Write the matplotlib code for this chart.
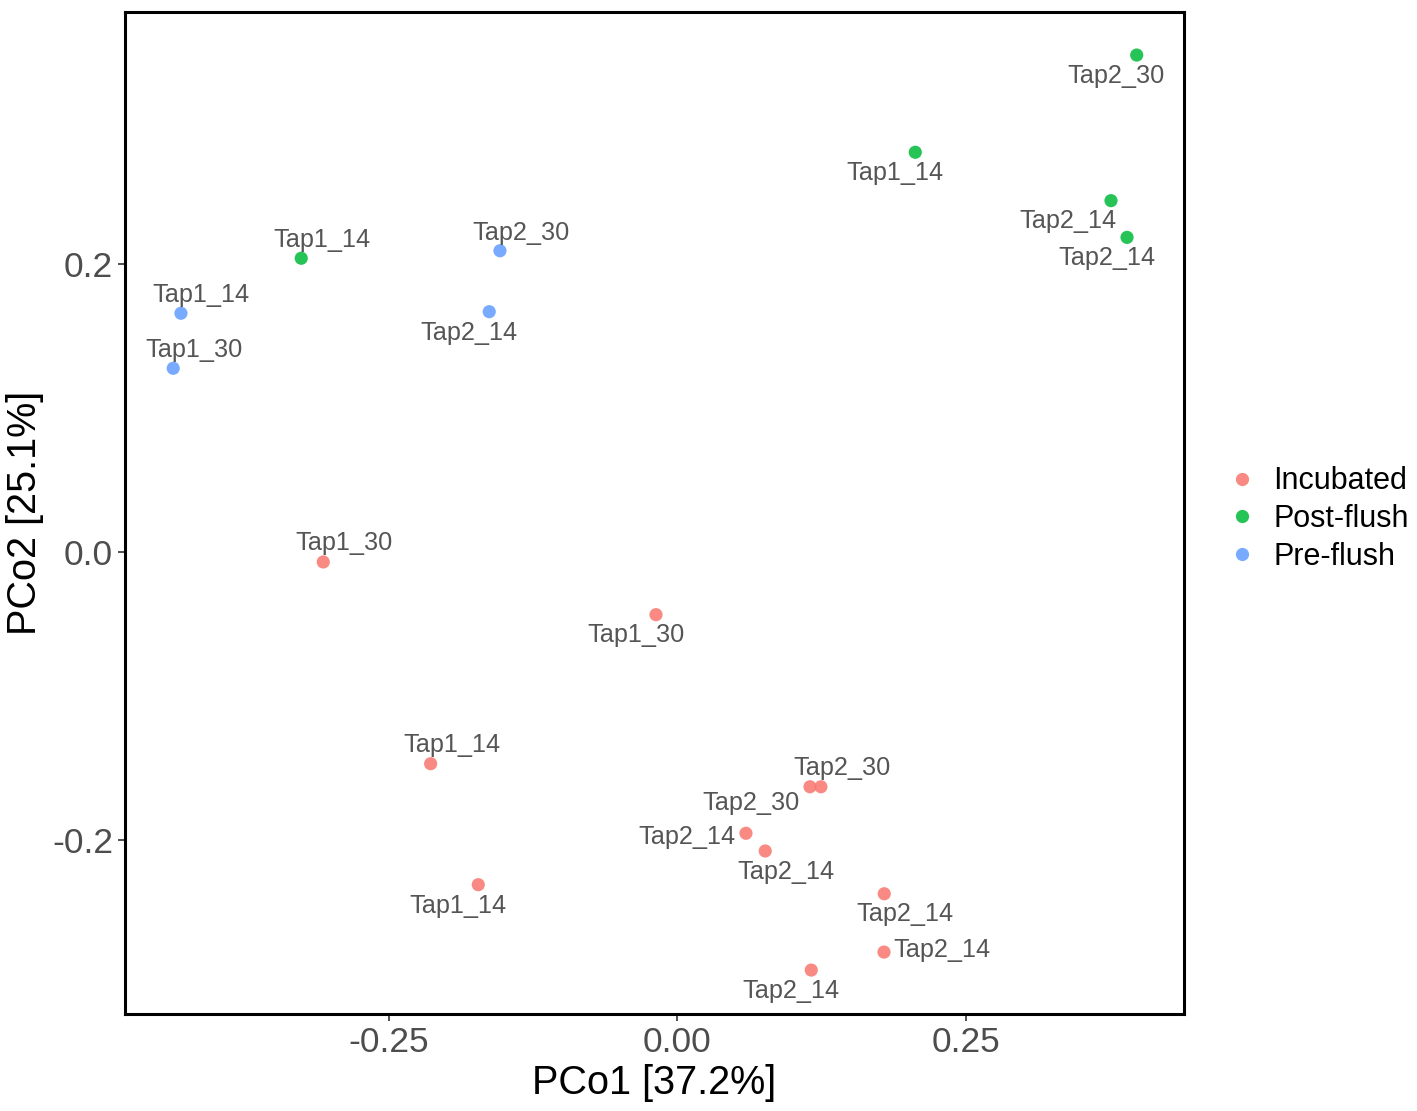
import numpy as np
import matplotlib
matplotlib.use('Agg')
import matplotlib.pyplot as plt
from matplotlib.lines import Line2D

plt.rcParams['font.family'] = ['Liberation Sans', 'DejaVu Sans']

# PCoA scores
groups = ['Incubated', 'Post-flush', 'Pre-flush']
colors = {'Incubated': '#F8766D', 'Post-flush': '#00BA38', 'Pre-flush': '#619CFF'}

pre_x = [-0.4305, -0.4372, -0.1539, -0.1632]
pre_y = [0.1658, 0.1276, 0.2092, 0.1669]
pre_lab = ['Tap1_14', 'Tap1_30', 'Tap2_30', 'Tap2_14']

post_x = [-0.3262, 0.2062, 0.3982, 0.3759, 0.3898]
post_y = [0.2040, 0.2776, 0.3451, 0.2440, 0.2185]
post_lab = ['Tap1_14', 'Tap1_14', 'Tap2_30', 'Tap2_14', 'Tap2_14']

inc_x = [-0.3071, -0.0186, -0.2140, -0.1727, 0.1149, 0.1244, 0.0594, 0.0761, 0.1793, 0.1791, 0.1160]
inc_y = [-0.0069, -0.0435, -0.1470, -0.2310, -0.1630, -0.1630, -0.1953, -0.2076, -0.2373, -0.2778, -0.2903]
inc_lab = ['Tap1_30', 'Tap1_30', 'Tap1_14', 'Tap1_14', 'Tap2_30', 'Tap2_30',
           'Tap2_14', 'Tap2_14', 'Tap2_14', 'Tap2_14', 'Tap2_14']

# repel-style label offsets in pixels (dx right, dy down)
pre_off = [(20, -18), (21, -18), (21, -18), (-20, 21)]
post_off = [(21, -18), (-20, 21), (-21, 21), (-43, 20), (-20, 21)]
inc_off = [(21, -19), (-20, 20), (21, -19), (-20, 21), (-59, 16), (21, -19),
           (-59, 4), (21, 21), (21, 20), (58, -2), (-20, 21)]

data = {
    'Incubated': (inc_x, inc_y, inc_lab, inc_off),
    'Post-flush': (post_x, post_y, post_lab, post_off),
    'Pre-flush': (pre_x, pre_y, pre_lab, pre_off),
}

fig = plt.figure(figsize=(14.17, 11.11), dpi=100)
ax = fig.add_axes([125 / 1417, 1 - 1014 / 1111, (1184 - 125) / 1417, (1014 - 12) / 1111])

for g in groups:
    xs, ys, labs, offs = data[g]
    ax.scatter(xs, ys, s=90, color=colors[g], alpha=0.85, edgecolors='none', zorder=3)
    for x, y, lab, (dx, dy) in zip(xs, ys, labs, offs):
        ax.annotate(lab, (x, y), xytext=(dx * 0.72, -dy * 0.72), textcoords='offset points',
                    ha='center', va='center', fontsize=18.2, color='#555555', zorder=4)

ax.set_xlim(-0.479, 0.4392)
ax.set_ylim(-0.3208, 0.375)
ax.set_xticks([-0.25, 0.0, 0.25])
ax.set_xticklabels(['-0.25', '0.00', '0.25'])
ax.set_yticks([-0.2, 0.0, 0.2])
ax.set_yticklabels(['-0.2', '0.0', '0.2'])
ax.tick_params(labelsize=25.5, labelcolor='#4D4D4D', color='#333333', length=5, width=1.2)
for sp in ax.spines.values():
    sp.set_linewidth(2.2)
    sp.set_color('black')

ax.set_xlabel('PCo1 [37.2%]', fontsize=28.5, labelpad=4)
ax.set_ylabel('PCo2 [25.1%]', fontsize=28.5, labelpad=6)

handles = [Line2D([], [], marker='o', linestyle='none', markersize=9.5, markeredgewidth=0,
                  color=colors[g], alpha=0.85) for g in groups]
fig.legend(handles, groups, loc='center left', bbox_to_anchor=(1211 / 1417, 1 - 519 / 1111),
           frameon=False, fontsize=22, handletextpad=0.53, labelspacing=0.25,
           handlelength=1.0, borderpad=0)

fig.savefig('out.png', dpi=100)
